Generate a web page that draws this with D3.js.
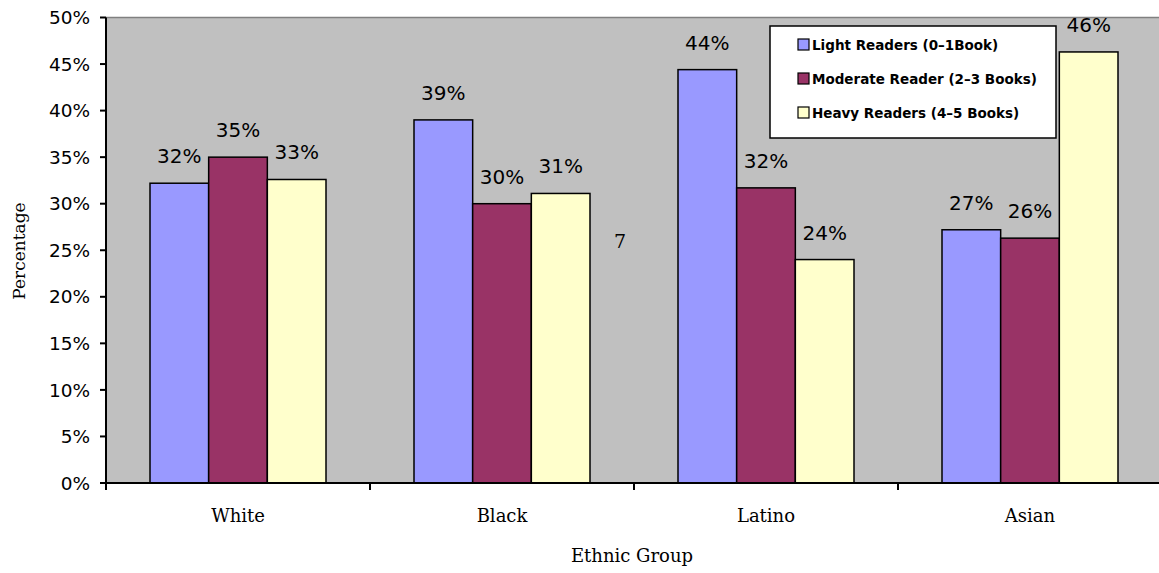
<!DOCTYPE html>
<html>
<head>
<meta charset="utf-8">
<script src="https://cdn.jsdelivr.net/npm/d3@7"></script>
<style>
  body { margin: 0; background: #fff; }
  svg { display: block; }
  .tick-lab { font-family: "DejaVu Sans", sans-serif; font-size: 18.5px; fill: #000; }
  .data-lab { font-family: "DejaVu Sans", sans-serif; font-size: 20px; fill: #000; }
  .cat-lab { font-family: "DejaVu Serif", serif; font-size: 18px; fill: #000; }
  .legend-lab { font-family: "DejaVu Sans", sans-serif; font-size: 13.5px; font-weight: bold; fill: #000; }
</style>
</head>
<body>
<svg width="1159" height="573"></svg>
<script>
// data
const groups = ["White", "Black", "Latino", "Asian"];
const seriesNames = ["Light Readers (0–1Book)", "Moderate Reader (2–3 Books)", "Heavy Readers (4–5 Books)"];
const lightReaders = [32.2, 39.0, 44.4, 27.2];
const moderateReaders = [35.0, 30.0, 31.7, 26.3];
const heavyReaders = [32.6, 31.1, 24.0, 46.3];
const yTicks = [0, 5, 10, 15, 20, 25, 30, 35, 40, 45, 50];
const colors = ["#9999FF", "#993366", "#FFFFCC"];

const series = [lightReaders, moderateReaders, heavyReaders];

const margin = { top: 17.5, left: 106 },
    width = 1056,
    height = 465.5;

const svg = d3.select("svg");
const g = svg.append("g")
    .attr("transform", "translate(" + margin.left + "," + margin.top + ")");

let x = d3.scaleBand().domain(groups).range([0, width]).paddingInner(0).paddingOuter(0);
let y = d3.scaleLinear().domain([0, 50]).range([height, 0]);

// plot background
g.append("rect")
    .attr("x", 0).attr("y", 0)
    .attr("width", width).attr("height", height)
    .attr("fill", "#C0C0C0");
g.append("line")
    .attr("x1", 0).attr("x2", width)
    .attr("y1", 0).attr("y2", 0)
    .attr("stroke", "#808080").attr("stroke-width", 1.5);

// bars: 3 bars in the middle of each band, gap = 1.5 bar
const barW = x.bandwidth() / 4.5;
let xs = d3.scaleBand().domain([0, 1, 2]).range([0.75 * barW, 3.75 * barW]);

groups.forEach(function(grp, gi) {
    series.forEach(function(vals, si) {
        const bx = x(grp) + xs(si);
        g.append("rect")
            .attr("x", bx)
            .attr("y", y(vals[gi]))
            .attr("width", barW)
            .attr("height", height - y(vals[gi]))
            .attr("fill", colors[si])
            .attr("stroke", "#000")
            .attr("stroke-width", 1.5);
        g.append("text")
            .attr("class", "data-lab")
            .attr("x", bx + barW / 2)
            .attr("y", y(vals[gi]) - 20)
            .attr("text-anchor", "middle")
            .text(Math.round(vals[gi]) + "%");
    });
});

// stray label
g.append("text")
    .attr("class", "cat-lab")
    .attr("x", 514)
    .attr("y", 230)
    .attr("text-anchor", "middle")
    .style("font-size", "19px")
    .text("7");

// y axis
g.append("line")
    .attr("x1", 0).attr("x2", 0)
    .attr("y1", 0).attr("y2", height + 7)
    .attr("stroke", "#000").attr("stroke-width", 2);
yTicks.forEach(function(t) {
    g.append("line")
        .attr("x1", -6).attr("x2", 0)
        .attr("y1", y(t)).attr("y2", y(t))
        .attr("stroke", "#000").attr("stroke-width", 2);
    g.append("text")
        .attr("class", "tick-lab")
        .attr("x", -16)
        .attr("y", y(t))
        .attr("dy", "0.36em")
        .attr("text-anchor", "end")
        .text(t + "%");
});

// x axis
g.append("line")
    .attr("x1", 0).attr("x2", width)
    .attr("y1", height).attr("y2", height)
    .attr("stroke", "#000").attr("stroke-width", 2);
groups.forEach(function(grp) {
    g.append("line")
        .attr("x1", x(grp)).attr("x2", x(grp))
        .attr("y1", height).attr("y2", height + 7)
        .attr("stroke", "#000").attr("stroke-width", 2);
    g.append("text")
        .attr("class", "cat-lab")
        .attr("x", x(grp) + x.bandwidth() / 2)
        .attr("y", height + 39)
        .attr("text-anchor", "middle")
        .text(grp);
});

// axis titles
svg.append("text")
    .attr("class", "cat-lab")
    .attr("x", 632)
    .attr("y", 562)
    .attr("text-anchor", "middle")
    .text("Ethnic Group");
svg.append("text")
    .attr("class", "cat-lab")
    .attr("transform", "translate(25,251) rotate(-90)")
    .attr("text-anchor", "middle")
    .style("font-size", "17px")
    .text("Percentage");

// legend
const lg = svg.append("g").attr("transform", "translate(770,26)");
lg.append("rect")
    .attr("x", 0).attr("y", 0)
    .attr("width", 286).attr("height", 112)
    .attr("fill", "#fff")
    .attr("stroke", "#000").attr("stroke-width", 1.5);
seriesNames.forEach(function(name, i) {
    const ly = 19 + i * 34;
    lg.append("rect")
        .attr("x", 28).attr("y", ly - 6)
        .attr("width", 11).attr("height", 11)
        .attr("fill", colors[i])
        .attr("stroke", "#000").attr("stroke-width", 1.2);
    lg.append("text")
        .attr("class", "legend-lab")
        .attr("x", 42)
        .attr("y", ly)
        .attr("dy", "0.36em")
        .text(name);
});
</script>
</body>
</html>
